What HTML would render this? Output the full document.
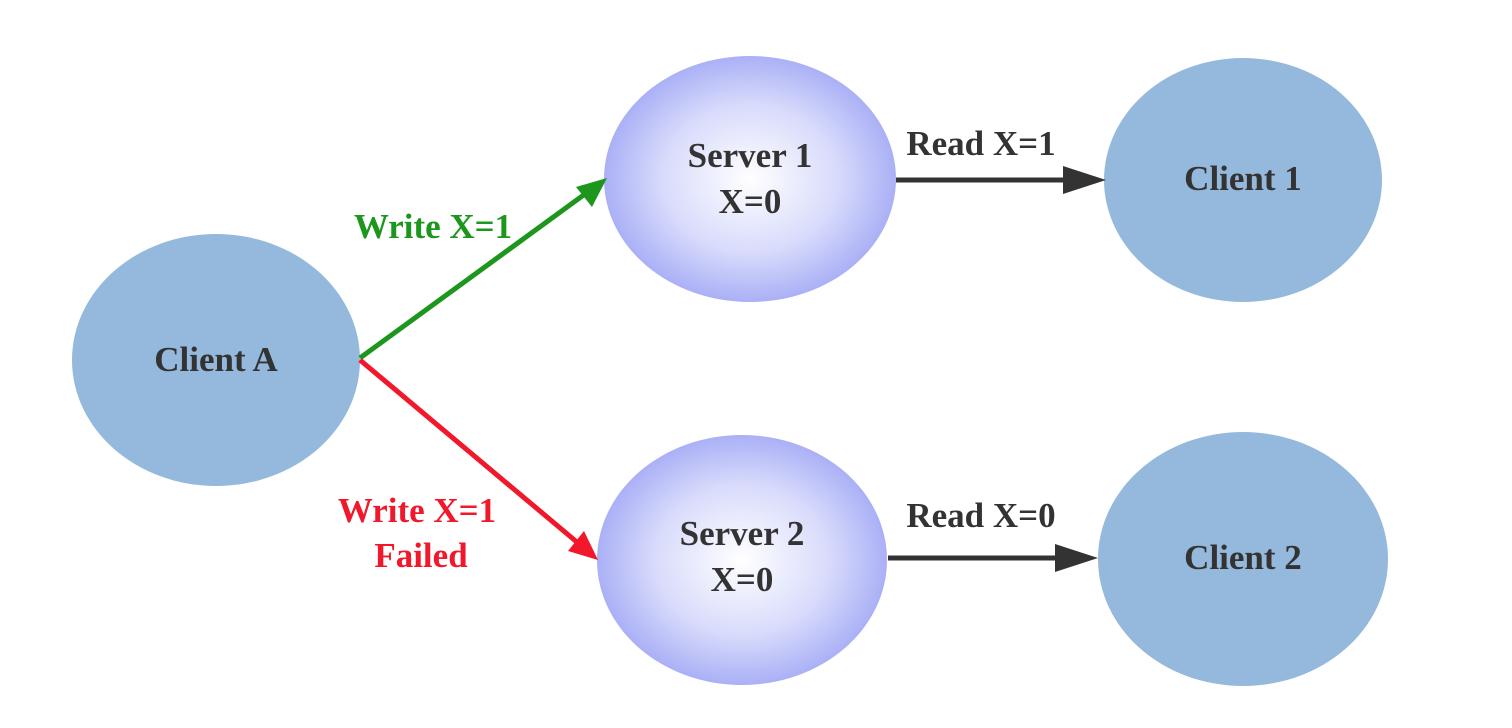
<!DOCTYPE html>
<html><head><style>body{margin:0;background:#fff}svg{display:block}
text{font-family:"Liberation Serif","Times New Roman",serif;font-weight:bold;font-size:35px}</style></head><body>
<svg width="1512" height="728" viewBox="0 0 1512 728" xmlns="http://www.w3.org/2000/svg">
<defs>
<radialGradient id="g" cx="50%" cy="50%" r="50%">
<stop offset="0" stop-color="#ffffff"/><stop offset="0.6" stop-color="#d8dbfb"/><stop offset="1" stop-color="#aab0f6"/>
</radialGradient>
</defs>
<ellipse cx="216" cy="360" rx="144" ry="126" fill="#95b9dc"/>
<ellipse cx="750" cy="179" rx="146" ry="123" fill="url(#g)"/>
<ellipse cx="742" cy="560" rx="145" ry="125" fill="url(#g)"/>
<ellipse cx="1243" cy="180" rx="139" ry="122" fill="#95b9dc"/>
<ellipse cx="1243" cy="559" rx="145" ry="127" fill="#95b9dc"/>
<line x1="360" y1="358" x2="585" y2="194" stroke="#1c961c" stroke-width="5"/>
<polygon points="607,178 576,187 592,207" fill="#1c961c"/>
<line x1="360" y1="360" x2="578" y2="543" stroke="#f0182a" stroke-width="5"/>
<polygon points="598,560 568,551 584,531" fill="#f0182a"/>
<line x1="896" y1="180" x2="1068" y2="180" stroke="#333" stroke-width="5"/>
<polygon points="1106,180 1063,166 1063,194" fill="#333"/>
<line x1="888" y1="558" x2="1060" y2="558" stroke="#333" stroke-width="5"/>
<polygon points="1098,558 1055,544 1055,572" fill="#333"/>
<g fill="#333" text-anchor="middle">
<text x="216" y="371">Client A</text>
<text x="750" y="167">Server 1</text>
<text x="750" y="213">X=0</text>
<text x="742" y="545">Server 2</text>
<text x="742" y="591">X=0</text>
<text x="1243" y="190">Client 1</text>
<text x="1243" y="569">Client 2</text>
<text x="981" y="155">Read X=1</text>
<text x="981" y="527">Read X=0</text>
</g>
<g text-anchor="middle">
<text x="433" y="238" fill="#1c961c">Write X=1</text>
<text x="417" y="522" fill="#f0182a">Write X=1</text>
<text x="421" y="567" fill="#f0182a">Failed</text>
</g>
</svg>
</body></html>
